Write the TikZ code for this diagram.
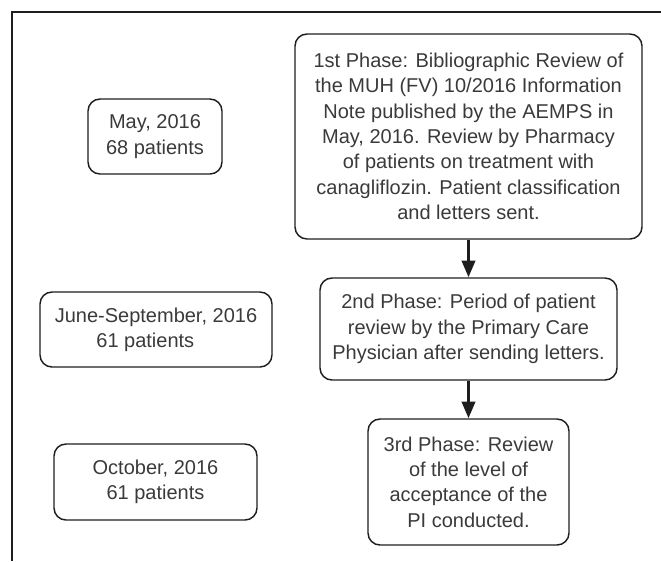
\documentclass[tikz,border=0pt]{standalone}
\usepackage{fontspec}
\setmainfont{Liberation Sans}
\usetikzlibrary{arrows.meta}
\definecolor{inkline}{HTML}{1E1E1E}
\definecolor{inktext}{HTML}{3A3A3A}
\begin{document}
\begin{tikzpicture}[x=0.75pt,y=-0.75pt,
        every node/.style={rectangle,rounded corners=9pt,draw=inkline,line width=1.1pt,
            align=center,inner sep=0pt,text=inktext,font=\fontsize{15}{19}\selectfont}]
        \useasboundingbox (0,0) rectangle (661,561);
        \draw[inkline,line width=1.6pt] (11,12) -- (661,12);
        \draw[inkline,line width=1.6pt] (12,12) -- (12,561);

        \node[minimum width=100.5pt,minimum height=56.25pt] at (155,136.5) (may) {May, 2016\\68 patients};
        \node[minimum width=174pt,minimum height=56.25pt] at (156,329.5) (june) {June-September, 2016\\\hspace*{-16pt}61 patients};
        \node[minimum width=152.25pt,minimum height=57pt] at (155.5,482) (oct) {October, 2016\\61 patients};

        \node[minimum width=260.25pt,minimum height=153.75pt] at (468.5,136.5) (ph1) {1st Phase: Bibliographic Review of\\the MUH (FV) 10/2016 Information\\Note published by the AEMPS in\\May, 2016. Review by Pharmacy\\of patients on treatment with\\canagliflozin. Patient classification\\and letters sent.};
        \node[minimum width=222.75pt,minimum height=76.5pt] at (468.5,329) (ph2) {2nd Phase: Period of patient\\review by the Primary Care\\Physician after sending letters.};
        \node[minimum width=150.75pt,minimum height=94.5pt] at (468.5,482) (ph3) {3rd Phase: Review\\of the level of\\acceptance of the\\PI conducted.};

        \draw[inkline,line width=2.2pt,-{Triangle[length=12.5pt,width=10pt]}] (ph1) -- (ph2);
        \draw[inkline,line width=2.2pt,-{Triangle[length=12.5pt,width=10pt]}] (ph2) -- (ph3);
    \end{tikzpicture}
\end{document}
